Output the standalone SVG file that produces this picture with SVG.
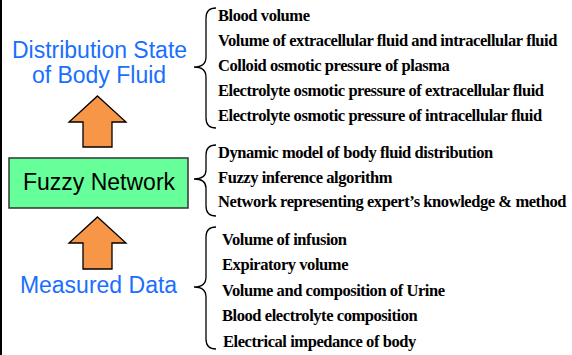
<svg xmlns="http://www.w3.org/2000/svg" width="572" height="355" viewBox="0 0 572 355">
<style>
.big{font-family:"Liberation Sans",Arial,sans-serif;font-size:23px;text-anchor:middle}
.blue{fill:#1a6fff}
.item{font-family:"Liberation Serif","Times New Roman",serif;font-weight:bold;font-size:16.5px;letter-spacing:-0.43px;fill:#000}
.brace{fill:none;stroke:#000;stroke-width:1.3}
.arrow{fill:#f79646;stroke:#000;stroke-width:1.3;stroke-linejoin:miter}
</style>
<rect x="0" y="0" width="572" height="355" fill="#fff"/>
<rect x="0" y="0" width="2" height="355" fill="#000"/>
<g id="distribution-state">
<text class="big blue" x="99.5" y="58">Distribution State</text>
<text class="big blue" x="99" y="83">of Body Fluid</text>
</g>
<g id="fuzzy-network">
<rect x="9" y="158" width="179" height="50" fill="#66ff99" stroke="#333" stroke-width="1.5"/>
<text class="big" x="99" y="190" fill="#000">Fuzzy Network</text>
</g>
<g id="measured-data">
<text class="big blue" x="98.5" y="293">Measured Data</text>
</g>
<g id="outputs-list">
<text class="item" x="218" y="21">Blood volume</text>
<text class="item" x="218" y="46">Volume of extracellular fluid and intracellular fluid</text>
<text class="item" x="218" y="71">Colloid osmotic pressure of plasma</text>
<text class="item" x="218" y="96">Electrolyte osmotic pressure of extracellular fluid</text>
<text class="item" x="218" y="121">Electrolyte osmotic pressure of intracellular fluid</text>
</g>
<g id="network-list">
<text class="item" x="218" y="158">Dynamic model of body fluid distribution</text>
<text class="item" x="218" y="183">Fuzzy inference algorithm</text>
<text class="item" x="218" y="207">Network representing expert’s knowledge &amp; method</text>
</g>
<g id="inputs-list">
<text class="item" x="222" y="245">Volume of infusion</text>
<text class="item" x="222" y="270">Expiratory volume</text>
<text class="item" x="222" y="296">Volume and composition of Urine</text>
<text class="item" x="222" y="321">Blood electrolyte composition</text>
<text class="item" x="223" y="347">Electrical impedance of body</text>
</g>
<g id="connectors">
<polygon class="arrow" points="97.5,96 126,122 112,122 112,147 83,147 83,122 69,122"/>
<polygon class="arrow" points="97.5,217 126,243 112,243 112,269 83,269 83,243 69,243"/>
<path class="brace" d="M216,8 Q206,8 206,18 L206,57 Q206,67 194,67 Q206,67 206,77 L206,118 Q206,128 216,128"/>
<path class="brace" d="M216,145 Q206,145 206,155 L206,170 Q206,179 194,179 Q206,179 206,188 L206,206 Q206,216 216,216"/>
<path class="brace" d="M216,227 Q206,227 206,237 L206,277 Q206,287 194,287 Q206,287 206,297 L206,339 Q206,349 216,349"/>
</g>
</svg>
